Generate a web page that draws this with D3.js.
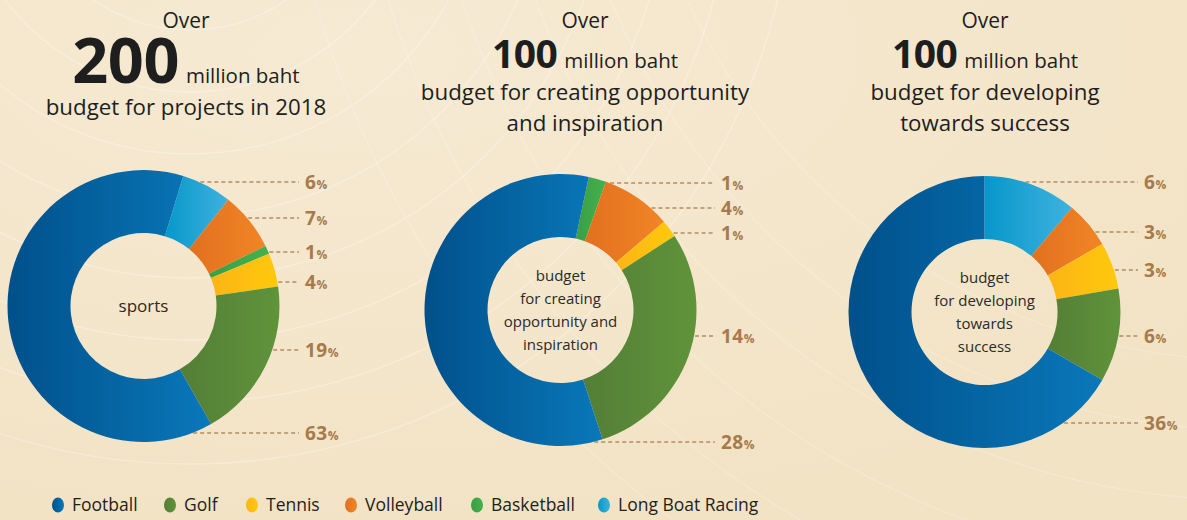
<!DOCTYPE html>
<html>
<head>
<meta charset="utf-8">
<script src="https://cdn.jsdelivr.net/npm/d3@7/dist/d3.min.js"></script>
<style>
  html, body { margin: 0; padding: 0; background: #f3e6c9; }
  svg { display: block; }
  text { font-family: "Open Sans", "Noto Sans", sans-serif; }
</style>
</head>
<body>
<svg id="chart" width="1187" height="520"></svg>
<script>
// Sports in legend order
const sports = ["Football", "Golf", "Tennis", "Volleyball", "Basketball", "Long Boat Racing"];

// Share of the total 2018 budget (%), in legend order
const projectsShare    = [63, 19, 4, 7, 1, 6];
const opportunityShare = [28, 14, 1, 4, 1, 0];
const successShare     = [36,  6, 3, 3, 0, 6];

// Headline amounts (million baht)
const headlineAmounts = [200, 100, 100];
const subtitles = [
  ["budget for projects in 2018"],
  ["budget for creating opportunity", "and inspiration"],
  ["budget for developing", "towards success"]
];
const centerLabels = [
  ["sports"],
  ["budget", "for creating", "opportunity and", "inspiration"],
  ["budget", "for developing", "towards", "success"]
];

// Gradient stops (dark -> light) per sport
const sportColors = {
  "Football":         ["#00508a", "#0a78ba"],
  "Golf":             ["#547e37", "#5f943a"],
  "Tennis":           ["#fbb415", "#ffc90c"],
  "Volleyball":       ["#e2701f", "#f18526"],
  "Basketball":       ["#3a9e45", "#45b14d"],
  "Long Boat Racing": ["#0697cb", "#40b2dd"]
};

const svg = d3.select("#chart");
const W = 1187, H = 520;

// ---------- background ----------
const defs = svg.append("defs");
const bg = defs.append("radialGradient").attr("id", "bgGrad")
  .attr("cx", "0.3").attr("cy", "0.1").attr("r", "0.9");
bg.append("stop").attr("offset", "0").attr("stop-color", "#f6ead3");
bg.append("stop").attr("offset", "1").attr("stop-color", "#f2e3c5");
svg.append("rect").attr("width", W).attr("height", H).attr("fill", "url(#bgGrad)");

const deco = svg.append("g").attr("fill", "none").attr("stroke", "#ffffff")
  .attr("stroke-opacity", 0.28).attr("stroke-width", 1.4);
d3.range(8).forEach(i => {
  deco.append("circle").attr("cx", 190).attr("cy", -140).attr("r", 170 + i * 62);
});
const deco2 = svg.append("g").attr("fill", "none").attr("stroke", "#ffffff")
  .attr("stroke-opacity", 0.22).attr("stroke-width", 1.2);
d3.range(6).forEach(i => {
  deco2.append("circle").attr("cx", 1250).attr("cy", -260).attr("r", 620 + i * 70);
});

Object.entries(sportColors).forEach(([name, [c0, c1]], i) => {
  const g = defs.append("linearGradient").attr("id", "grad" + i)
    .attr("x1", "0").attr("y1", "0").attr("x2", "1").attr("y2", "0");
  g.append("stop").attr("offset", "0").attr("stop-color", c0);
  g.append("stop").attr("offset", "1").attr("stop-color", c1);
});
const gradId = name => "url(#grad" + Object.keys(sportColors).indexOf(name) + ")";

// ---------- layout of the three panels ----------
// ring: clockwise order of the segments, starting at `start` degrees from the top
const panels = [
  { shares: projectsShare, cx: 143.5, cy: 306, start: 17,
    ring: ["Long Boat Racing", "Volleyball", "Basketball", "Tennis", "Golf", "Football"],
    titleX: 186, labelX: 305, labelDy: [-124, -88, -54, -24, 44, 127] },
  { shares: opportunityShare, cx: 560.5, cy: 310, start: 12,
    ring: ["Basketball", "Volleyball", "Tennis", "Golf", "Football"],
    titleX: 585, labelX: 721, labelDy: [-127, -102, -77, 26, 132] },
  { shares: successShare, cx: 984.5, cy: 312, start: 0,
    ring: ["Long Boat Racing", "Volleyball", "Tennis", "Golf", "Football"],
    titleX: 985, labelX: 1144, labelDy: [-130, -80, -42, 24, 111] }
];

const rOuter = 136, rInner = 73;
const arc = d3.arc().innerRadius(rInner).outerRadius(rOuter);

panels.forEach((p, pi) => {
  const g = svg.append("g");

  // headline
  const t = g.append("g").attr("fill", "#1e1e1e");
  t.append("text").attr("x", p.titleX).attr("y", 28).attr("text-anchor", "middle")
    .attr("font-size", 21).text("Over");
  const big = pi === 0 ? 63 : 39;
  const bigY = pi === 0 ? 83 : 68;
  const headline = t.append("text").attr("x", p.titleX).attr("y", bigY).attr("text-anchor", "middle");
  headline.append("tspan").attr("font-size", big).attr("font-weight", 700)
    .attr("letter-spacing", -0.5).text(headlineAmounts[pi]);
  headline.append("tspan").attr("font-size", 20.5).attr("dx", 7).text("million baht");
  const subY = pi === 0 ? 115 : 100;
  subtitles[pi].forEach((line, li) => {
    t.append("text").attr("x", p.titleX).attr("y", subY + li * 31).attr("text-anchor", "middle")
      .attr("font-size", 22.3).text(line);
  });

  // ring data in drawing order, empty shares dropped
  const ringData = p.ring
    .map(name => ({ name, value: p.shares[sports.indexOf(name)] }))
    .filter(d => d.value > 0);

  const a0 = p.start * Math.PI / 180;
  const pie = d3.pie().sort(null).value(d => d.value)
    .startAngle(a0).endAngle(a0 + 2 * Math.PI);
  const arcs = pie(ringData);

  // leader lines (drawn under the ring)
  const leaders = g.append("g");
  arcs.forEach((d, i) => {
    const dy = p.labelDy[i];
    const dx = Math.sqrt(Math.max(0, rOuter * rOuter - dy * dy));
    const y = p.cy + dy;
    leaders.append("line")
      .attr("x1", p.cx + dx - 6).attr("x2", p.labelX - 6)
      .attr("y1", y).attr("y2", y)
      .attr("stroke", "#b48c62").attr("stroke-width", 1.3)
      .attr("stroke-dasharray", "4,3");
    const lab = leaders.append("text").attr("x", p.labelX).attr("y", y + 7)
      .attr("fill", "#a67a4b").attr("font-weight", 700);
    lab.append("tspan").attr("font-size", 19).attr("letter-spacing", 0.5).text(d.data.value);
    lab.append("tspan").attr("font-size", 12).text("%");
  });

  // ring
  const ring = g.append("g").attr("transform", `translate(${p.cx},${p.cy})`);
  ring.selectAll("path").data(arcs).join("path")
    .attr("d", arc)
    .attr("fill", d => gradId(d.data.name));

  // center label
  const lines = centerLabels[pi];
  const lh = 23;
  const y0 = -((lines.length - 1) * lh) / 2;
  lines.forEach((line, li) => {
    ring.append("text").attr("x", 0).attr("y", y0 + li * lh).attr("dy", "0.35em")
      .attr("text-anchor", "middle").attr("fill", "#2a2a2a")
      .attr("font-size", pi === 0 ? 17 : 15).text(line);
  });
});

// ---------- legend ----------
const legendX = [58, 170, 252, 351, 477, 604];
const legend = svg.append("g");
sports.forEach((name, i) => {
  legend.append("ellipse").attr("cx", legendX[i]).attr("cy", 505)
    .attr("rx", 6).attr("ry", 7.5).attr("fill", gradId(name));
  legend.append("text").attr("x", legendX[i] + 14).attr("y", 505).attr("dy", "0.35em")
    .attr("font-size", 17.5).attr("fill", "#1e1e1e").text(name);
});
</script>
</body>
</html>
